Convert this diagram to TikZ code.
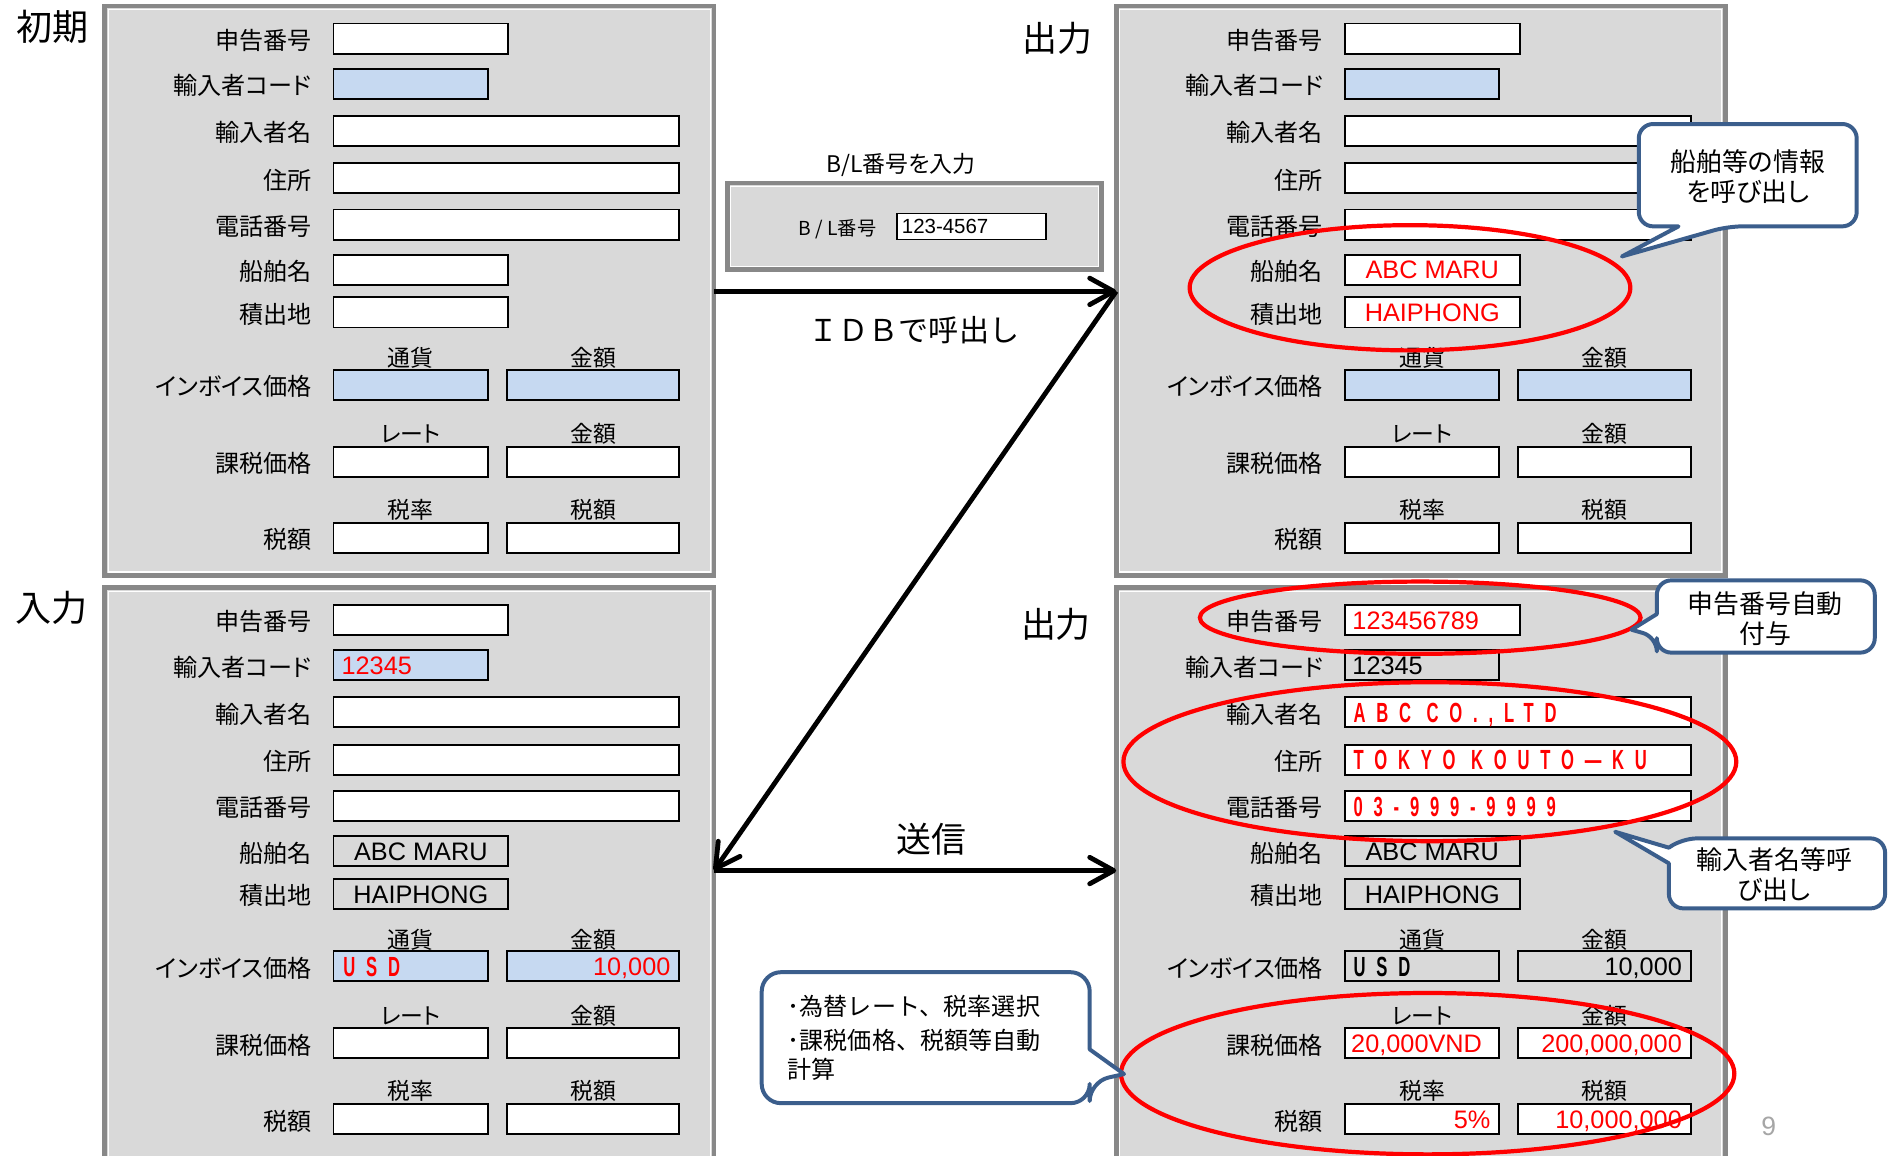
\documentclass[tikz,border=0pt]{standalone}
\usepackage{fontspec}
\setmainfont{Noto Sans CJK JP}[RawFeature=+palt]
\newfontfamily\jpfull{Noto Sans CJK JP}
\newfontfamily\latf{Liberation Sans}
\newfontfamily\spcf{Liberation Sans Bold}[FakeStretch=0.6,LetterSpace=39]
\usetikzlibrary{arrows.meta,calc}
\definecolor{panelfill}{HTML}{D9D9D9}
\definecolor{panelline}{HTML}{888888}
\definecolor{fieldblue}{HTML}{C6D9F1}
\definecolor{callblue}{HTML}{3B5E8C}
\definecolor{pagegray}{HTML}{A6A6A6}
\tikzset{
  panelbox/.style={draw=panelline, line width=4pt, fill=panelfill, anchor=north west, inner sep=0pt, outer sep=0pt},
  fld/.style={draw=black, line width=1.6pt, minimum height=25pt, inner sep=0pt, outer sep=0pt, anchor=north west},
  lbl/.style={font=\fontsize{20}{24}\selectfont, inner sep=0pt, anchor=base east},
  hdr/.style={font=\fontsize{19}{22}\selectfont, inner sep=0pt, anchor=base},
  val/.style={font=\latf\fontsize{21}{24}\selectfont, inner sep=0pt},
  sval/.style={font=\spcf\fontsize{23}{25}\selectfont, inner sep=0pt},
  ttl/.style={font=\fontsize{29}{32}\selectfont, inner sep=0pt, anchor=base},
  ring/.style={draw=red, line width=3.5pt},
  callout/.style={draw=callblue, line width=3.3pt, fill=white, rounded corners=12pt, line join=round},
  ctext/.style={font=\fontsize{21.5}{25}\selectfont, inner sep=0pt, anchor=base},
  ltext/.style={font=\jpfull\fontsize{20}{24}\selectfont, inner sep=0pt, anchor=base west},
  flow/.style={line width=4pt, -{Straight Barb[length=20pt,width=22pt,round]}},
}
\newcommand\panellabels[1]{%
  \node[lbl] (#1l1) at (172,36) {申告番号};
  \node[lbl] (#1l2) at (172,73.5) {輸入者コード};
  \node[lbl] (#1l3) at (172,112.5) {輸入者名};
  \node[lbl] (#1l4) at (172,152) {住所};
  \node[lbl] (#1l5) at (172,190.5) {電話番号};
  \node[lbl] (#1l6) at (172,228) {船舶名};
  \node[lbl] (#1l7) at (172,263.5) {積出地};
  \node[lbl] (#1l8) at (172,323.5) {インボイス価格};
  \node[lbl] (#1l9) at (172,387.5) {課税価格};
  \node[lbl] (#1l10) at (172,450.5) {税額};
  \node[hdr] (#1h1) at (254,299.5) {通貨};
  \node[hdr] (#1h2) at (405.5,299.5) {金額};
  \node[hdr] (#1h3) at (254,362.5) {レート};
  \node[hdr] (#1h4) at (405.5,362.5) {金額};
  \node[hdr] (#1h5) at (254,425.5) {税率};
  \node[hdr] (#1h6) at (405.5,425.5) {税額};
}
\newcommand\panelfields[4]{%
  \node[fld,fill=white,minimum width=145pt] (#1f1) at (190,14.5) {};
  \node[fld,fill=#2,minimum width=128pt] (#1f2) at (190,52) {};
  \node[fld,fill=white,minimum width=287pt] (#1f3) at (190,91) {};
  \node[fld,fill=white,minimum width=287pt] (#1f4) at (190,130.5) {};
  \node[fld,fill=white,minimum width=287pt] (#1f5) at (190,169) {};
  \node[fld,fill=#3,minimum width=145pt] (#1f6) at (190,206.5) {};
  \node[fld,fill=#3,minimum width=145pt] (#1f7) at (190,242) {};
  \node[fld,fill=#4,minimum width=128pt] (#1f8) at (190,302) {};
  \node[fld,fill=#4,minimum width=143pt] (#1f9) at (334,302) {};
  \node[fld,fill=white,minimum width=128pt] (#1f10) at (190,366) {};
  \node[fld,fill=white,minimum width=143pt] (#1f11) at (334,366) {};
  \node[fld,fill=white,minimum width=128pt] (#1f12) at (190,429) {};
  \node[fld,fill=white,minimum width=143pt] (#1f13) at (334,429) {};
}
\begin{document}
\begin{tikzpicture}[x=1pt,y=-1pt]
\useasboundingbox (0,0) rectangle (1568,960);
\clip (0,0) rectangle (1568,960);
\fill[white] (0,0) rectangle (1568,960);

% panels
\node[panelbox, minimum width=506pt, minimum height=473pt] (p1) at (87,5) {};
\node[panelbox, minimum width=506pt, minimum height=473pt] (p2) at (927,5) {};
\node[panelbox, minimum width=506pt, minimum height=480pt] (p3) at (87,488) {};
\node[panelbox, minimum width=506pt, minimum height=480pt] (p4) at (927,488) {};
\node[panelbox, minimum width=311pt, minimum height=72pt] (bl) at (604,152) {};
\foreach \p in {p1,p2,p3,p4,bl}
  \draw[white, line width=1pt] ($(\p.north west)+(3,3)$) rectangle ($(\p.south east)+(-3,-3)$);

\begin{scope}[shift={(87,5)}]
  \panelfields{p1}{fieldblue}{white}{fieldblue}
  \panellabels{p1}
\end{scope}
\begin{scope}[shift={(927,5)}]
  \panelfields{p2}{fieldblue}{white}{fieldblue}
  \panellabels{p2}
\end{scope}
\begin{scope}[shift={(87,488)}]
  \panelfields{p3}{fieldblue}{panelfill}{fieldblue}
  \panellabels{p3}
\end{scope}
\begin{scope}[shift={(927,488)}]
  \panelfields{p4}{panelfill}{panelfill}{panelfill}
  \panellabels{p4}
\end{scope}

% values panel 2
\node[val,text=red,anchor=base] (p2v6) at ($(p2f6.center)+(0,7.5)$) {ABC MARU};
\node[val,text=red,anchor=base] (p2v7) at ($(p2f7.center)+(0,7.5)$) {HAIPHONG};
% values panel 3
\node[val,text=red,anchor=base west] (p3v2) at ($(p3f2.west)+(6.5,7.5)$) {12345};
\node[val,anchor=base] (p3v6) at ($(p3f6.center)+(0,7.5)$) {ABC MARU};
\node[val,anchor=base] (p3v7) at ($(p3f7.center)+(0,7.5)$) {HAIPHONG};
\node[sval,text=red,anchor=base west] (p3v8) at ($(p3f8.west)+(8,8.2)$) {USD};
\node[val,text=red,anchor=base east] (p3v9) at ($(p3f9.east)+(-7,7.5)$) {10,000};
% values panel 4
\node[val,text=red,anchor=base west] (p4v1) at ($(p4f1.west)+(6,7.5)$) {123456789};
\node[val,anchor=base west] (p4v2) at ($(p4f2.west)+(6,7.5)$) {12345};
\node[sval,text=red,anchor=base west] (p4v3) at ($(p4f3.west)+(7,8.2)$) {ABC CO.,LTD};
\node[sval,text=red,anchor=base west] (p4v4) at ($(p4f4.west)+(7,8.2)$) {TOKYO KOUTO—KU};
\node[sval,text=red,anchor=base west] (p4v5) at ($(p4f5.west)+(7,8.2)$) {03-999-9999};
\node[val,anchor=base] (p4v6) at ($(p4f6.center)+(0,7.5)$) {ABC MARU};
\node[val,anchor=base] (p4v7) at ($(p4f7.center)+(0,7.5)$) {HAIPHONG};
\node[sval,anchor=base west] (p4v8) at ($(p4f8.west)+(7,8.2)$) {USD};
\node[val,anchor=base east] (p4v9) at ($(p4f9.east)+(-7,7.5)$) {10,000};
\node[val,text=red,anchor=base west] (p4v10) at ($(p4f10.west)+(5,7.5)$) {20,000VND};
\node[val,text=red,anchor=base east] (p4v11) at ($(p4f11.east)+(-7,7.5)$) {200,000,000};
\node[val,text=red,anchor=base east] (p4v12) at ($(p4f12.east)+(-7,7.5)$) {5\%};
\node[val,text=red,anchor=base east] (p4v13) at ($(p4f13.east)+(-7,7.5)$) {10,000,000};

% B/L input
\node[anchor=base, font=\fontsize{19}{22}\selectfont, inner sep=0pt] (bltitle) at (748,143) {B/L番号を入力};
\node[anchor=base east, font=\fontsize{16}{19}\selectfont, inner sep=0pt] (bllbl) at (728,196) {B / L番号};
\node[fld, fill=white, minimum width=124pt, minimum height=21.6pt] (blin) at (744.8,177.3) {};
\node[font=\latf\fontsize{17}{20}\selectfont, inner sep=0pt, anchor=base west] (blval) at ($(blin.west)+(4,6)$) {123-4567};

% titles
\node[ttl,font=\fontsize{30}{33}\selectfont] (t1) at (44,33.4) {初期};
\node[ttl,font=\fontsize{30}{33}\selectfont] (t2) at (43,516.4) {入力};
\node[ttl] (t3) at (878.5,42.5) {出力};
\node[ttl] (t4) at (877,529.4) {出力};

% arrows
\coordinate (a1s) at ($(p1.north east)+(0,237)$);
\coordinate (a1e) at ($(p2.north west)+(0,237)$);
\coordinate (a3s) at ($(p3.north east)+(0,235)$);
\coordinate (a3e) at ($(p4.north west)+(0,235)$);
\draw[flow] (a1s) -- (a1e);
\draw[flow] (a1e) -- (a3s);
\draw[flow] (a3s) -- (a3e);
\node[anchor=base, font=\jpfull\fontsize{25}{28}\selectfont, inner sep=0pt] (idb) at (759,283.5) {ＩＤＢで呼出し};
\node[ttl] (send) at (773.8,708) {送信};

% red highlight rings
\draw[ring] (1171,239) ellipse [x radius=183pt, y radius=52pt];
\draw[ring] (1179.5,513) ellipse [x radius=183pt, y radius=30pt];
\draw[ring] (1187.5,632.6) ellipse [x radius=254.5pt, y radius=66pt];
\draw[ring] (1185.7,891.7) ellipse [x radius=254.7pt, y radius=67pt];

% callouts
\draw[callout] (1394,188) -- (1361,188) -- (1361,103) -- (1542,103) -- (1542,188) -- (1435,188) [sharp corners] -- (1347,213) -- cycle;
\node[ctext] (c1a) at (1451.5,142.6) {船舶等の情報};
\node[ctext] (c1b) at (1451.5,167.2) {を呼び出し};

\draw[callout] (1376,510) -- (1376,482) -- (1557,482) -- (1557,542) -- (1376,542) -- (1376,529) [sharp corners] -- (1355,523) -- cycle;
\node[ctext] (c2a) at (1466,509.2) {申告番号自動};
\node[ctext] (c2b) at (1466,534.2) {付与};

\draw[callout] (1386,717) -- (1386,754.4) -- (1565.6,754.4) -- (1565.6,696.3) -- (1397,696.3) [sharp corners] -- (1386,704) -- (1341.4,690.8) -- cycle;
\node[ctext] (c3a) at (1473.5,722.5) {輸入者名等呼};
\node[ctext] (c3b) at (1473.5,747.4) {び出し};

\draw[callout, rounded corners=16pt] (905,871.5) -- (905,807.4) -- (632.6,807.4) -- (632.6,916.2) -- (905,916.2) -- (905,898.4) [sharp corners] -- (933.5,892) -- cycle;
\node[ltext] (c4a) at (654,843.1) {･為替レート、税率選択};
\node[ltext] (c4b) at (654,871.6) {･課税価格、税額等自動};
\node[ltext] (c4c) at (654,896.1) {計算};

% page number
\node[anchor=base, text=pagegray, font=\latf\fontsize{22}{24}\selectfont, inner sep=0pt] (pg) at (1469,943) {9};
\end{tikzpicture}
\end{document}
